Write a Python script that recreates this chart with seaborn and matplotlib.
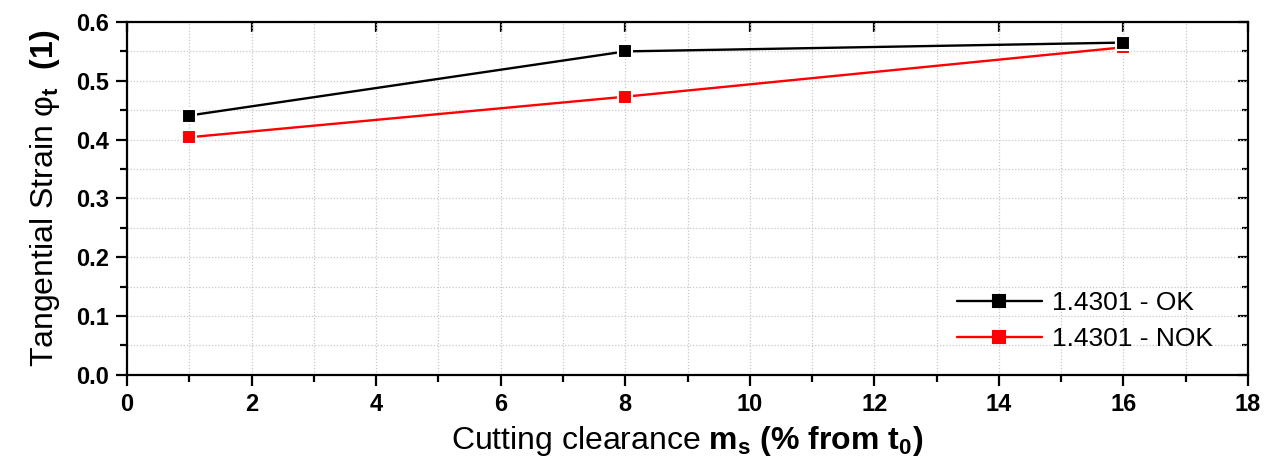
import matplotlib
matplotlib.use("Agg")
import matplotlib.pyplot as plt
import seaborn as sns
import pandas as pd
from matplotlib.ticker import MultipleLocator

clearance = [1, 8, 16]
ok_values = [0.441, 0.550, 0.565]
nok_values = [0.404, 0.473, 0.557]
series_names = ["1.4301 - OK", "1.4301 - NOK"]
series_colors = ["#000000", "#ff0000"]

df = pd.DataFrame({
    "x": clearance * 2,
    "y": ok_values + nok_values,
    "series": [series_names[0]] * 3 + [series_names[1]] * 3,
})

sns.set_theme(style="white")
plt.rcParams['font.family'] = ['Liberation Sans', 'DejaVu Sans']
plt.rcParams['text.color'] = 'black'
plt.rcParams['axes.labelcolor'] = 'black'
plt.rcParams['xtick.color'] = 'black'
plt.rcParams['ytick.color'] = 'black'
plt.rcParams['mathtext.fontset'] = 'custom'
plt.rcParams['mathtext.rm'] = 'Liberation Sans'
plt.rcParams['mathtext.it'] = 'Liberation Sans:italic'
plt.rcParams['mathtext.bf'] = 'Liberation Sans:bold'

fig = plt.figure(figsize=(12.77, 4.68), dpi=100)
ax = fig.add_axes([0.0995, 0.199, 0.8778, 0.754])

sns.lineplot(data=df, x="x", y="y", hue="series", style="series",
             hue_order=series_names[::-1], style_order=series_names[::-1],
             palette=dict(zip(series_names, series_colors)),
             markers={n: "s" for n in series_names}, dashes=False,
             markersize=10.5, markeredgecolor="white", markeredgewidth=1.5,
             linewidth=1.7, ax=ax, legend=True)

ax.set_xlim(0, 18)
ax.set_ylim(0, 0.6)
ax.xaxis.set_major_locator(MultipleLocator(2))
ax.xaxis.set_minor_locator(MultipleLocator(1))
ax.yaxis.set_major_locator(MultipleLocator(0.1))
ax.yaxis.set_minor_locator(MultipleLocator(0.05))
ax.yaxis.set_major_formatter(matplotlib.ticker.FormatStrFormatter('%.1f'))

ax.grid(True, which="both", color="#c8c8c8", linestyle=(0, (1, 1.5)), linewidth=0.9)
ax.set_axisbelow(True)

for s in ax.spines.values():
    s.set_visible(True)
    s.set_color("black")
    s.set_linewidth(1.6)

ax.tick_params(which="both", bottom=True, left=True, top=False, right=False,
               direction="out", colors="black", width=1.6)
ax.tick_params(which="major", length=8, pad=5)
ax.tick_params(which="minor", length=5)
for lbl in ax.get_xticklabels() + ax.get_yticklabels():
    lbl.set_fontweight("bold")
    lbl.set_fontsize(17)

# mirrored inward ticks on top and right
ax2 = ax.secondary_xaxis("top")
ax2.xaxis.set_major_locator(MultipleLocator(2))
ax2.xaxis.set_minor_locator(MultipleLocator(1))
ax2.tick_params(which="both", direction="in", width=1.6, labeltop=False)
ax2.tick_params(which="major", length=7)
ax2.tick_params(which="minor", length=0)
ax3 = ax.secondary_yaxis("right")
ax3.yaxis.set_major_locator(MultipleLocator(0.1))
ax3.yaxis.set_minor_locator(MultipleLocator(0.05))
ax3.tick_params(which="both", direction="in", width=1.6, labelright=False)
ax3.tick_params(which="major", length=7)
ax3.tick_params(which="minor", length=4)

ax.set_xlabel(r"Cutting clearance $\mathbf{m_s}$ $\mathbf{(\%\ from\ t_0)}$", fontsize=23, labelpad=6)
ax.set_ylabel(r"Tangential Strain φ$_{\mathbf{t}}$  $\mathbf{(1)}$", fontsize=23, labelpad=10)

# legend in reference order
handles, labels = ax.get_legend_handles_labels()
order = [labels.index(n) for n in series_names]
leg = ax.legend([handles[i] for i in order], [labels[i] for i in order],
                loc="lower right", bbox_to_anchor=(0.99, 0.0), frameon=False,
                fontsize=19, handlelength=3.2, handletextpad=0.4, labelspacing=0.45)
for h in leg.legend_handles:
    h.set_markeredgecolor(h.get_color())
    h.set_markersize(8)

fig.savefig("out.png", dpi=100)
